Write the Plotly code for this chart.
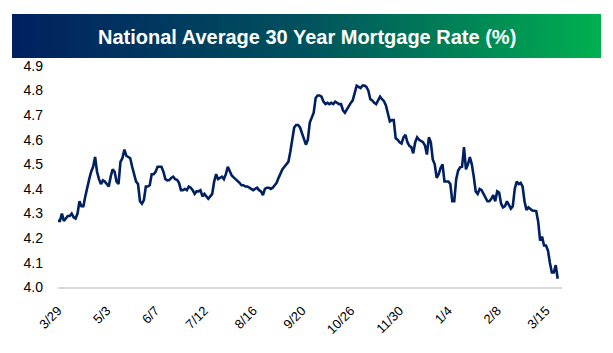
import plotly.graph_objects as go

title_text = "National Average 30 Year Mortgage Rate (%)"

tick_labels = ["3/29", "5/3", "6/7", "7/12", "8/16", "9/20", "10/26", "11/30", "1/4", "2/8", "3/15"]
tick_every = 25

rates_mar_jun = [4.27, 4.27, 4.30, 4.27, 4.28, 4.29, 4.29, 4.30, 4.285, 4.28,
                 4.30, 4.35, 4.33, 4.33, 4.37, 4.41, 4.44, 4.47, 4.49, 4.53,
                 4.47, 4.44, 4.42, 4.435, 4.43, 4.42, 4.41, 4.45, 4.48, 4.47,
                 4.43, 4.42, 4.51, 4.525, 4.56, 4.535, 4.53, 4.525, 4.49, 4.46,
                 4.43, 4.42, 4.35, 4.34, 4.355, 4.41, 4.41, 4.415, 4.46, 4.46,
                 4.47, 4.49, 4.49]
rates_jun_aug = [4.49, 4.47, 4.44, 4.435, 4.436, 4.445, 4.45, 4.44, 4.437, 4.425,
                 4.395, 4.395, 4.40, 4.395, 4.41, 4.405, 4.395, 4.38, 4.39, 4.39,
                 4.395, 4.37, 4.38, 4.37, 4.36, 4.37, 4.38, 4.43, 4.46, 4.44,
                 4.445, 4.45, 4.44, 4.46, 4.49, 4.47, 4.455, 4.447, 4.44, 4.435,
                 4.425, 4.415, 4.415, 4.41, 4.41, 4.405, 4.40, 4.395, 4.40, 4.405]
rates_aug_oct = [4.395, 4.39, 4.375, 4.40, 4.405, 4.405, 4.40, 4.405, 4.415, 4.425,
                 4.445, 4.465, 4.48, 4.49, 4.50, 4.51, 4.55, 4.61, 4.65, 4.66,
                 4.66, 4.65, 4.625, 4.605, 4.58, 4.60, 4.67, 4.69, 4.71, 4.77,
                 4.78, 4.78, 4.775, 4.755, 4.745, 4.75, 4.745, 4.75, 4.745, 4.755,
                 4.75, 4.745, 4.745, 4.72, 4.71, 4.725, 4.735, 4.75, 4.76, 4.785,
                 4.82, 4.815]
rates_oct_jan = [4.81, 4.82, 4.82, 4.815, 4.80, 4.765, 4.76, 4.75, 4.745, 4.76,
                 4.775, 4.765, 4.757, 4.74, 4.71, 4.675, 4.68, 4.68, 4.606, 4.60,
                 4.59, 4.585, 4.61, 4.62, 4.59, 4.575, 4.57, 4.545, 4.59, 4.61,
                 4.60, 4.595, 4.59, 4.577, 4.54, 4.61, 4.59, 4.52, 4.50, 4.445,
                 4.46, 4.485, 4.50, 4.43, 4.43, 4.43, 4.42, 4.35, 4.35, 4.44,
                 4.475]
rates_jan_mar = [4.488, 4.49, 4.57, 4.48, 4.50, 4.53, 4.50, 4.45, 4.39, 4.38,
                 4.40, 4.395, 4.38, 4.36, 4.35, 4.35, 4.36, 4.375, 4.35, 4.39,
                 4.385, 4.34, 4.325, 4.33, 4.35, 4.335, 4.32, 4.33, 4.40, 4.43,
                 4.42, 4.425, 4.41, 4.35, 4.314, 4.325, 4.318, 4.312, 4.311, 4.31,
                 4.267, 4.19, 4.206, 4.17, 4.17, 4.15, 4.10, 4.06, 4.06, 4.09,
                 4.035]

rates = rates_mar_jun + rates_jun_aug + rates_aug_oct + rates_oct_jan + rates_jan_mar
x_idx = list(range(len(rates)))
tick_vals = [i * tick_every for i in range(len(tick_labels))]

W, H = 613, 353
def px_x(p):
    return p / W
def px_y(p):
    return (H - p) / H

fig = go.Figure()
fig.add_trace(go.Scatter(
    x=x_idx, y=rates, mode="lines",
    line=dict(color="#002060", width=2.6),
    hoverinfo="skip", showlegend=False,
))

# gradient banner behind the title
fig.add_trace(go.Scatter(
    x=[0, 1, 1, 0, 0], y=[0, 0, 1, 1, 0], mode="lines",
    line=dict(width=0), fill="toself",
    fillgradient=dict(type="horizontal",
                      colorscale=[[0, "#002060"], [0.5, "#00525E"], [1, "#00B050"]]),
    xaxis="x2", yaxis="y2", hoverinfo="skip", showlegend=False,
))

font_family = "Liberation Sans, Arial, sans-serif"

fig.update_layout(
    width=W, height=H,
    margin=dict(l=0, r=0, t=0, b=0),
    paper_bgcolor="white", plot_bgcolor="white",
    font=dict(family=font_family, color="#000000"),
    xaxis=dict(
        domain=[px_x(58), px_x(561.6)],
        range=[0, 258],
        tickmode="array", tickvals=tick_vals, ticktext=tick_labels,
        tickangle=-45, tickfont=dict(size=13, color="#000000"),
        showgrid=False, zeroline=False,
        showline=True, linecolor="#D9D9D9", linewidth=1.5,
        ticks="", ticklabelstandoff=9, automargin=False,
    ),
    yaxis=dict(
        domain=[px_y(287.3), px_y(66)],
        range=[4.0, 4.9],
        tickmode="array", tickvals=[4.0 + 0.1 * k for k in range(10)],
        ticktext=["4.0", "4.1", "4.2", "4.3", "4.4", "4.5", "4.6", "4.7", "4.8", "4.9"],
        tickfont=dict(size=14, color="#000000"),
        showgrid=False, zeroline=False, showline=False,
        ticks="", ticklabelstandoff=14, automargin=False,
    ),
    xaxis2=dict(domain=[px_x(12), px_x(601)], range=[0, 1], visible=False,
                anchor="y2", fixedrange=True),
    yaxis2=dict(domain=[px_y(58), px_y(14)], range=[0, 1], visible=False,
                anchor="x2", fixedrange=True),
    annotations=[dict(
        text="<b>" + title_text + "</b>", x=0.5, y=px_y(36.5),
        xref="paper", yref="paper", xanchor="center", yanchor="middle",
        showarrow=False, font=dict(size=20, color="white", family=font_family),
    )],
)

fig.write_html("out.html")
